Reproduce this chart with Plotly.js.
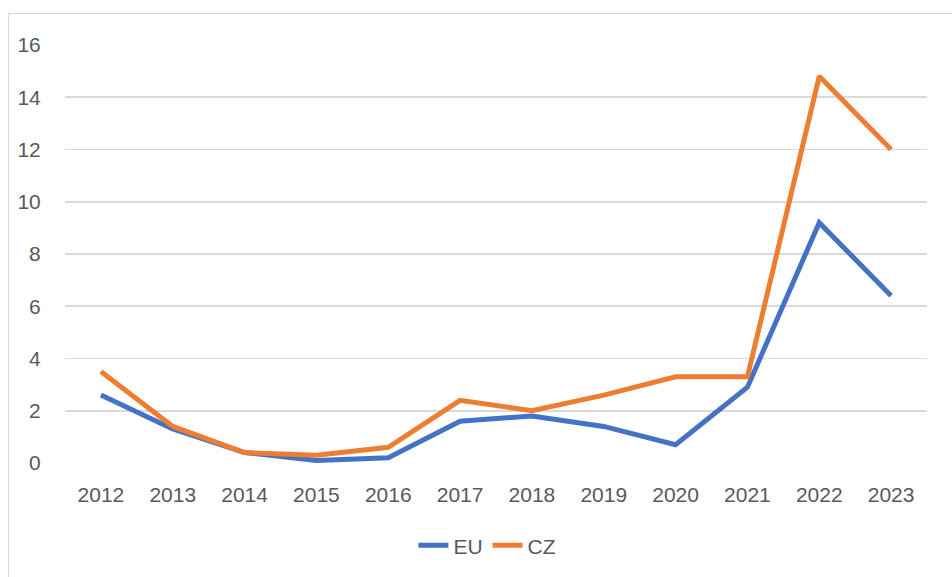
<!DOCTYPE html>
<html>
<head>
<meta charset="utf-8">
<script src="https://cdn.plot.ly/plotly-3.0.1.min.js"></script>
<style>
  html, body { margin: 0; padding: 0; background: #ffffff; overflow: hidden; }
  #frame { position: absolute; left: 8px; top: 13px; width: 1200px; height: 900px;
           border-left: 1.5px solid #d9d9d9; border-top: 1.5px solid #d9d9d9; }
  #chart { position: absolute; left: 0; top: 0; width: 952px; height: 577px; }
</style>
</head>
<body>
<div id="frame"></div>
<div id="chart"></div>
<script>
const years = ['2012','2013','2014','2015','2016','2017','2018','2019','2020','2021','2022','2023'];
const euValues = [2.6, 1.3, 0.4, 0.1, 0.2, 1.6, 1.8, 1.4, 0.7, 2.9, 9.2, 6.4];
const czValues = [3.5, 1.4, 0.4, 0.3, 0.6, 2.4, 2.0, 2.6, 3.3, 3.3, 14.8, 12.0];
const yTicks = [0, 2, 4, 6, 8, 10, 12, 14, 16];

const fontFamily = 'Liberation Sans, Arial, sans-serif';
const textColor = '#595959';

const traces = [
  { x: years, y: euValues, name: 'EU', type: 'scatter', mode: 'lines',
    line: { color: '#4472C4', width: 5, shape: 'linear' } },
  { x: years, y: czValues, name: 'CZ', type: 'scatter', mode: 'lines',
    line: { color: '#ED7D31', width: 5, shape: 'linear' } }
];

const layout = {
  width: 952, height: 577,
  margin: { l: 65, r: 25.3, t: 44.7, b: 113.3, pad: 0 },
  paper_bgcolor: 'rgba(0,0,0,0)',
  plot_bgcolor: 'rgba(0,0,0,0)',
  font: { family: fontFamily, size: 21, color: textColor },
  showlegend: true,
  legend: { orientation: 'h', x: 0.49, xanchor: 'center', y: -0.195, yanchor: 'middle',
            font: { family: fontFamily, size: 21, color: textColor },
            itemwidth: 30, tracegroupgap: 0, bgcolor: 'rgba(0,0,0,0)' },
  xaxis: {
    type: 'category', range: [-0.5, 11.5], showgrid: false, zeroline: false, showline: false,
    ticks: 'outside', ticklen: 13, tickcolor: 'rgba(0,0,0,0)',
    tickfont: { family: fontFamily, size: 21, color: textColor }, fixedrange: true
  },
  yaxis: {
    range: [0, 16], tickvals: yTicks, ticktext: yTicks.map(String),
    showgrid: true, gridcolor: '#d9d9d9', gridwidth: 1.8, zeroline: false, showline: false,
    ticks: 'outside', ticklen: 19, tickcolor: 'rgba(0,0,0,0)',
    tickfont: { family: fontFamily, size: 21, color: textColor }, fixedrange: true
  }
};

Plotly.newPlot('chart', traces, layout, { displayModeBar: false, staticPlot: true });
</script>
</body>
</html>
